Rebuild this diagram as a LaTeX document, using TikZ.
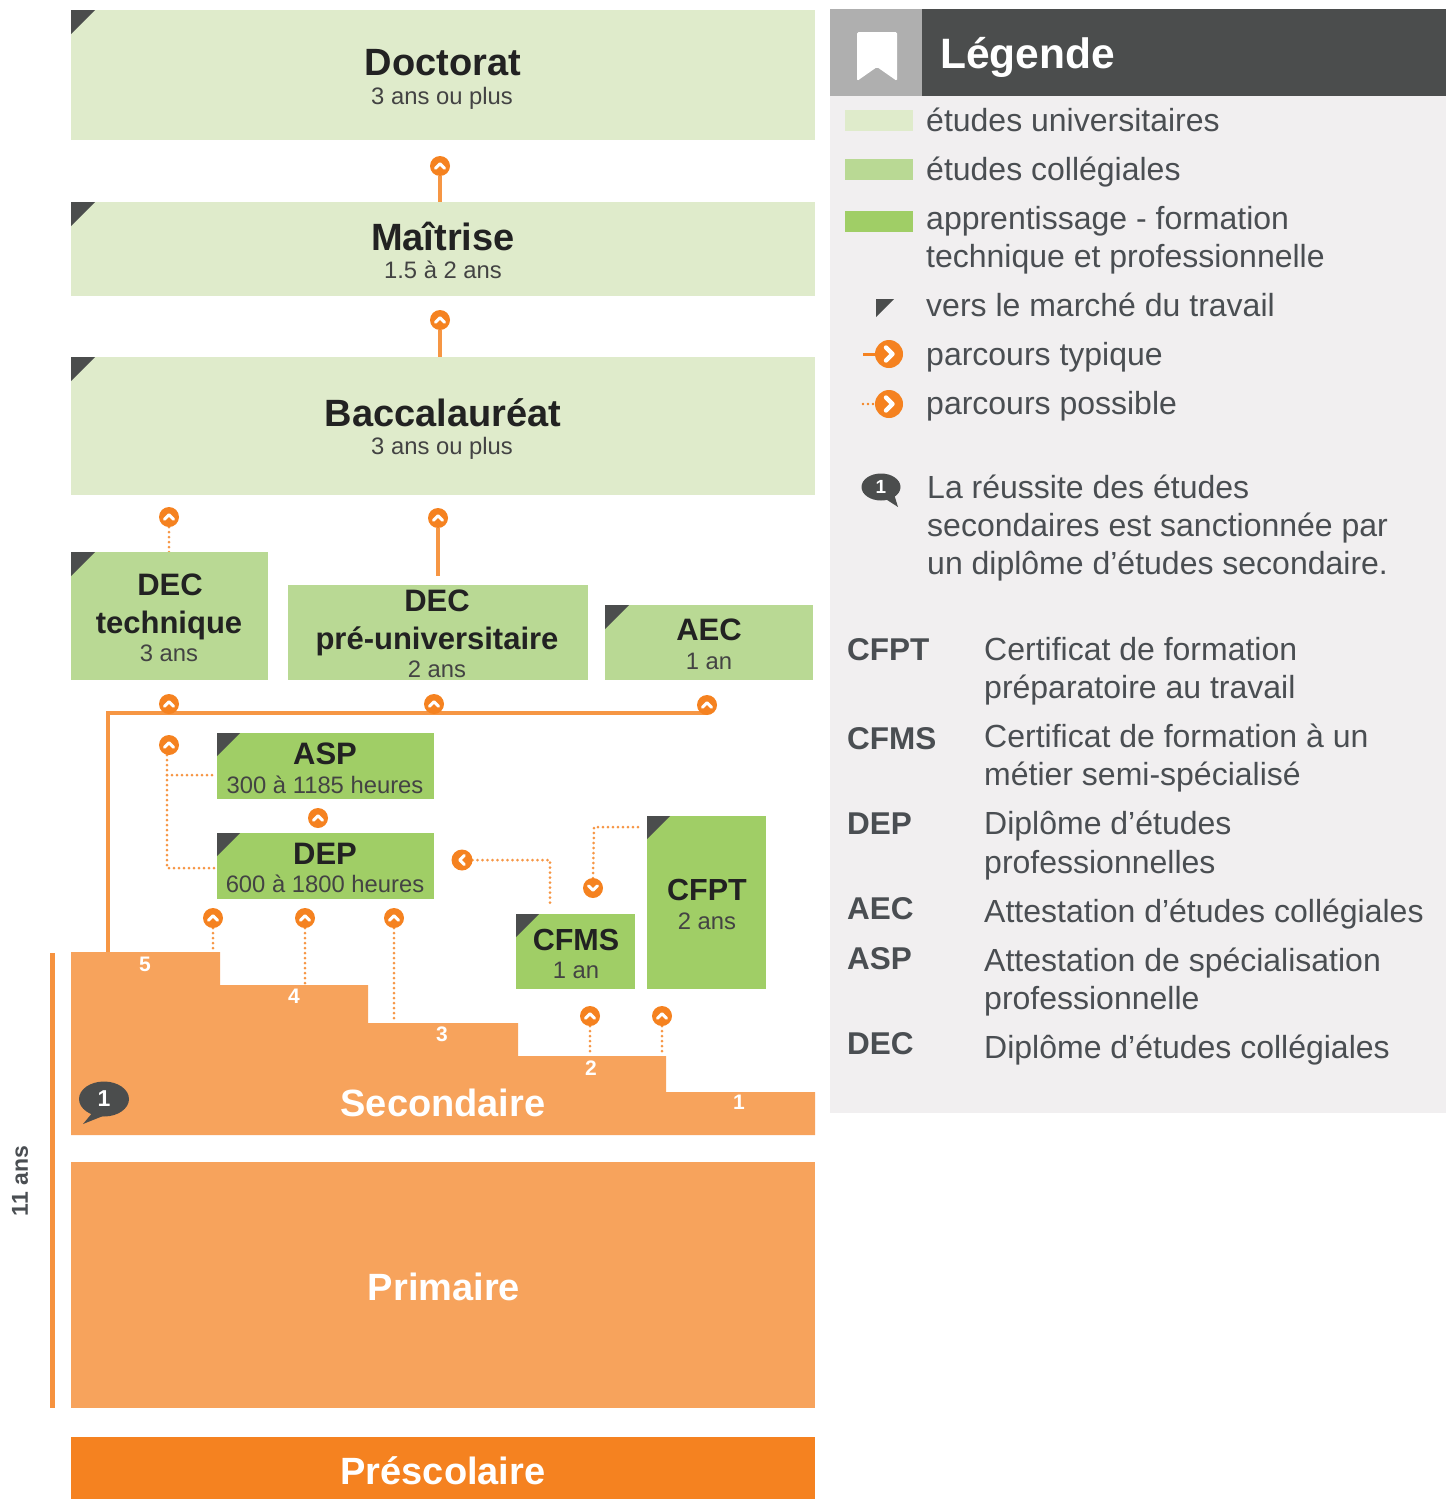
\documentclass[tikz,border=0pt]{standalone}
\usepackage{fontspec}
\setmainfont{Liberation Sans}
\usetikzlibrary{shapes.geometric,backgrounds}
\definecolor{univ}{HTML}{DFEBCB}
\definecolor{coll}{HTML}{B9D994}
\definecolor{appr}{HTML}{A0CE66}
\definecolor{stepc}{HTML}{F7A35C}
\definecolor{presc}{HTML}{F58220}
\definecolor{ico}{HTML}{F58220}
\definecolor{dark}{HTML}{4B4D4D}
\definecolor{midg}{HTML}{AFAFAF}
\definecolor{panel}{HTML}{F1EFF0}
\definecolor{ink}{HTML}{222222}
\definecolor{leg}{HTML}{4A4E52}
\newcommand{\fs}[1]{\fontsize{#1}{#1}\selectfont}
\newcommand{\cornertri}[2]{\fill[dark] (#1.north west) -- ++(#2,0) -- ++(-#2,#2) -- cycle;}
\tikzset{
  x=1pt,y=-1pt,
  area/.style={draw=none,inner sep=0,outer sep=0,minimum width=#1},
  title/.style={anchor=base,inner sep=0,text=ink,font=\bfseries\fs{38}},
  titles/.style={anchor=base,inner sep=0,text=ink,font=\bfseries\fs{31}},
  subt/.style={anchor=base,inner sep=0,text=ink!85!white,font=\fs{23.8}},
  wtitle/.style={anchor=base,inner sep=0,text=white,font=\bfseries\fs{38}},
  num/.style={anchor=base,inner sep=0,text=white,font=\bfseries\fs{21}},
  legtext/.style={anchor=base west,inner sep=0,text=leg,font=\fs{32}},
  legbold/.style={anchor=base west,inner sep=0,text=leg,font=\bfseries\fs{31.5}},
  typ/.style={draw=stepc!60!ico,line width=3.2pt},
  poss/.style={draw=stepc!60!ico,line width=3pt,line cap=round,dash pattern=on 0pt off 5pt},
  chev/.style={draw=white,line width=#1,line cap=round,line join=round},
  ic/.style={circle,fill=ico,minimum size=20pt,inner sep=0,outer sep=0},
  icup/.style={ic,path picture={\draw[chev=3pt] ([shift={(-4.5,2.2)}]path picture bounding box.center) -- ([shift={(0,-2.3)}]path picture bounding box.center) -- ([shift={(4.5,2.2)}]path picture bounding box.center);}},
  icdown/.style={ic,path picture={\draw[chev=3pt] ([shift={(-4.5,-2.2)}]path picture bounding box.center) -- ([shift={(0,2.3)}]path picture bounding box.center) -- ([shift={(4.5,-2.2)}]path picture bounding box.center);}},
  icleft/.style={ic,minimum size=21pt,path picture={\draw[chev=3pt] ([shift={(2.2,-4.5)}]path picture bounding box.center) -- ([shift={(-2.3,0)}]path picture bounding box.center) -- ([shift={(2.2,4.5)}]path picture bounding box.center);}},
  icright/.style={ic,minimum size=28pt,path picture={\draw[chev=4.4pt] ([shift={(-3,-6.5)}]path picture bounding box.center) -- ([shift={(3.5,0)}]path picture bounding box.center) -- ([shift={(-3,6.5)}]path picture bounding box.center);}},
}
\newcommand{\bx}[6]{\node[area=#4pt-#2pt,minimum height=#5pt-#3pt,fill=#6] (#1) at ({(#2+#4)/2},{(#3+#5)/2}) {};}
\begin{document}
\begin{tikzpicture}
\useasboundingbox (0,0) rectangle (1453,1499);
% university
\bx{doc}{71}{10}{815}{140}{univ}
\bx{mai}{71}{202}{815}{296}{univ}
\bx{bac}{71}{357}{815}{495}{univ}
\cornertri{doc}{24}\cornertri{mai}{24}\cornertri{bac}{24}
\node[title] (tdoc) at (443,75) {Doctorat};
\node[subt] (sdoc) at (442,104) {3 ans ou plus};
\node[title] (tmai) at (443,250) {Maîtrise};
\node[subt] (smai) at (443,278) {1.5 à 2 ans};
\node[title] (tbac) at (443,426) {Baccalauréat};
\node[subt] (sbac) at (442,454) {3 ans ou plus};
% college
\bx{dect}{71}{552}{268}{680}{coll}
\bx{decp}{288}{585}{588}{680}{coll}
\bx{aec}{605}{605}{813}{680}{coll}
\cornertri{dect}{24}\cornertri{aec}{24}
\node[titles] (tdect) at (170,595) {DEC};
\node[titles] (tdect2) at (169,633) {technique};
\node[subt] (sdect) at (169,661) {3 ans};
\node[titles] (tdecp) at (437,611) {DEC};
\node[titles] (tdecp2) at (437,649) {pré-universitaire};
\node[subt] (sdecp) at (437,677) {2 ans};
\node[titles] (taec) at (709,640) {AEC};
\node[subt] (saec) at (709,669) {1 an};
% apprenticeship
\bx{asp}{217}{733}{434}{799}{appr}
\bx{dep}{217}{833}{434}{899}{appr}
\bx{cfms}{516}{914}{635}{989}{appr}
\bx{cfpt}{647}{816}{766}{989}{appr}
\cornertri{asp}{23}\cornertri{dep}{23}\cornertri{cfms}{23}\cornertri{cfpt}{23}
\node[titles] (tasp) at (325,764) {ASP};
\node[subt] (sasp) at (325,793) {300 à 1185 heures};
\node[titles] (tdep) at (325,864) {DEP};
\node[subt] (sdep) at (325,892) {600 à 1800 heures};
\node[titles,font=\bfseries\fs{30.5}] (tcfms) at (576,950) {CFMS};
\node[subt] (scfms) at (576,978) {1 an};
\node[titles,font=\bfseries\fs{30.5}] (tcfpt) at (707,900) {CFPT};
\node[subt] (scfpt) at (707,929) {2 ans};
% orange levels
\fill[stepc] (71,952) -- (220,952) -- (220,985) -- (368,985) -- (368,1023) -- (518,1023) -- (518,1056) -- (666,1056) -- (666,1092) -- (815,1092) -- (815,1135) -- (71,1135) -- cycle;
\coordinate (s5) at (108,952);
\coordinate (s5b) at (213,952);
\coordinate (s4) at (305,983);
\coordinate (s3) at (394,1019);
\coordinate (s2a) at (590,1052);
\coordinate (s2b) at (662,1052);
\node[num] (n5) at (145,971) {5};
\node[num] (n4) at (294,1003) {4};
\node[num] (n3) at (442,1041) {3};
\node[num] (n2) at (591,1075) {2};
\node[num] (n1) at (739,1109) {1};
\node[wtitle] (tsec) at (443,1116) {Secondaire};
\bx{pri}{71}{1162}{815}{1408}{stepc}
\node[wtitle] (tpri) at (444,1300) {Primaire};
\bx{pre}{71}{1437}{815}{1499}{presc}
\node[wtitle] (tpre) at (443,1484) {Préscolaire};
% side bar
\coordinate (bara) at (52.5,953);
\coordinate (barb) at (52.5,1408);
\draw[draw=stepc!50!ico,line width=4.5pt] (bara) -- (barb);
\node[rotate=90,inner sep=0,text=leg,font=\bfseries\fs{23}] (age) at (20,1181) {11 ans};
% bubble on secondary
\fill[dark] (93,1112) -- (83,1124) -- (108,1114) -- cycle;
\node[ellipse,fill=dark,minimum width=50pt,minimum height=35pt,inner sep=0,text=white,font=\bfseries\fs{23}] (bub) at (104,1099) {1};
% icons
\node[icup] (i1) at (440,166) {};
\node[icup] (i2) at (440,320) {};
\node[icup] (i3) at (169,517) {};
\node[icup] (i4) at (438,518) {};
\node[icup] (i5) at (169,704) {};
\node[icup] (i6) at (434,704) {};
\node[icup] (i7) at (707,705) {};
\node[icup] (i8) at (169,745) {};
\node[icup] (i9) at (318,818) {};
\node[icup] (i10) at (213,918) {};
\node[icup] (i11) at (305,918) {};
\node[icup] (i12) at (394,918) {};
\node[icleft] (i13) at (462,860) {};
\node[icdown] (i14) at (593,888) {};
\node[icup] (i15) at (590,1016) {};
\node[icup] (i16) at (662,1016) {};
\coordinate (j1) at (167,775);
\coordinate (j2) at (167,868);
\coordinate (j3) at (550,860);
\coordinate (j4) at (594,827);
\coordinate (j5) at (108,713);
\coordinate (j6) at (707,713);
\begin{scope}[on background layer]
\draw[typ] (i1.south) -- (i1.south |- mai.north);
\draw[typ] (i2.south) -- (i2.south |- bac.north);
\draw[poss] (i3.south) -- (i3.south |- dect.north);
\draw[typ,shorten >=9pt] (i4.south) -- (i4.south |- decp.north);
\draw[typ] (j6) -- (j5) -- (s5);
\draw[poss,shorten >=3pt] (167,755) -- (j2) -- (j2 -| dep.west);
\draw[poss,shorten >=3pt] (j1) -- (j1 -| asp.west);
\draw[poss] (i10.south) -- (s5b);
\draw[poss] (i11.south) -- (s4);
\draw[poss] (i12.south) -- (s3);
\draw[poss] (i13.east) -- (j3) -- ([yshift=8pt]j3 |- cfms.north);
\draw[poss,shorten >=6pt] (i14.north) -- (j4) -- (j4 -| cfpt.west);
\draw[poss] (i15.south) -- (s2a);
\draw[poss] (i16.south) -- (s2b);
\end{scope}
% legend
\bx{panelbox}{830}{96}{1446}{1113}{panel}
\bx{hgrey}{830}{9}{922}{96}{midg}
\bx{hdark}{922}{9}{1446}{96}{dark}
\fill[white,rounded corners=1.5pt] (857,32) -- (897,32) -- (897,81) -- (877,67) -- (857,81) -- cycle;
\node[anchor=base west,inner sep=0,text=white,font=\bfseries\fs{42.5}] (tleg) at (940,68) {Légende};
\bx{sw1}{845}{110}{913}{131}{univ}
\bx{sw2}{845}{159}{913}{180}{coll}
\bx{sw3}{845}{211}{913}{232}{appr}
\fill[dark] (876,299) -- (894,299) -- (876,317) -- cycle;
\node[legtext] (l1) at (926,131) {études universitaires};
\node[legtext] (l2) at (926,180) {études collégiales};
\node[legtext] (l3) at (926,229) {apprentissage - formation};
\node[legtext] (l3b) at (926,267) {technique et professionnelle};
\node[legtext] (l4) at (926,316) {vers le marché du travail};
\node[legtext] (l5) at (926,365) {parcours typique};
\node[legtext] (l6) at (926,414) {parcours possible};
\node[icright] (li1) at (889,354) {};
\node[icright] (li2) at (889,404) {};
\coordinate (la1) at (863,354);
\coordinate (la2) at (863,404);
\draw[draw=ico,line width=3pt] (la1) -- (li1.west);
\draw[draw=ico,line width=2.6pt,line cap=round,dash pattern=on 0pt off 5pt] (la2) -- (li2.west);
\fill[dark] (884,498) -- (898,507) -- (894,494) -- cycle;
\node[ellipse,fill=dark,minimum width=39pt,minimum height=27pt,inner sep=0,text=white,font=\bfseries\fs{19}] (lbub) at (881,487) {1};
\node[legtext] (m1) at (927,498) {La réussite des études};
\node[legtext] (m2) at (927,536) {secondaires est sanctionnée par};
\node[legtext] (m3) at (927,574) {un diplôme d’études secondaire.};
\node[legbold] (a1) at (847,660) {CFPT};
\node[legtext] (b1) at (984,660) {Certificat de formation};
\node[legtext] (b1b) at (984,698) {préparatoire au travail};
\node[legbold] (a2) at (847,749) {CFMS};
\node[legtext] (b2) at (984,747) {Certificat de formation à un};
\node[legtext] (b2b) at (984,785) {métier semi-spécialisé};
\node[legbold] (a3) at (847,834) {DEP};
\node[legtext] (b3) at (984,834) {Diplôme d’études};
\node[legtext] (b3b) at (984,873) {professionnelles};
\node[legbold] (a4) at (847,919) {AEC};
\node[legtext] (b4) at (984,922) {Attestation d’études collégiales};
\node[legbold] (a5) at (847,969) {ASP};
\node[legtext] (b5) at (984,971) {Attestation de spécialisation};
\node[legtext] (b5b) at (984,1009) {professionnelle};
\node[legbold] (a6) at (847,1054) {DEC};
\node[legtext] (b6) at (984,1058) {Diplôme d’études collégiales};
\end{tikzpicture}
\end{document}
